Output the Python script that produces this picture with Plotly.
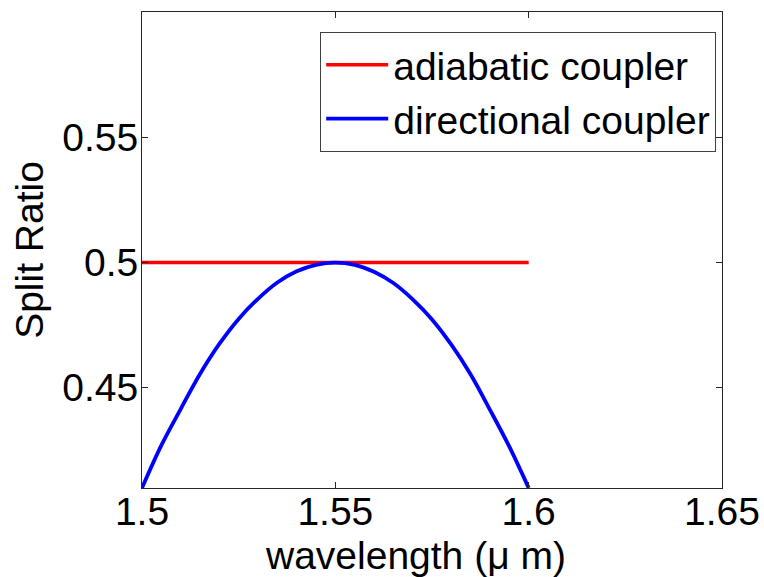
import plotly.graph_objects as go

# Data
wavelength_adiabatic = [1.50, 1.60]
split_adiabatic = [0.5, 0.5]

wavelength_directional = [1.500, 1.505, 1.510, 1.515, 1.520, 1.525, 1.530, 1.535, 1.540, 1.545,
                          1.550, 1.555, 1.560, 1.565, 1.570, 1.575, 1.580, 1.585, 1.590, 1.595, 1.600]
split_directional = [0.4100, 0.4270, 0.4415, 0.4555, 0.4675, 0.4775, 0.4855, 0.4920, 0.4965, 0.4991,
                     0.5000, 0.4991, 0.4963, 0.4918, 0.4853, 0.4773, 0.4672, 0.4553, 0.4412, 0.4265, 0.4100]

x_ticks = [1.5, 1.55, 1.6, 1.65]
x_ticktext = ["1.5", "1.55", "1.6", "1.65"]
y_ticks = [0.45, 0.5, 0.55]
y_ticktext = ["0.45", "0.5", "0.55"]
x_title = "wavelength (μ m)"
y_title = "Split Ratio"

FONT = "Liberation Sans, Arial, sans-serif"
FS = 39

fig = go.Figure()
fig.add_trace(go.Scatter(x=wavelength_adiabatic, y=split_adiabatic, mode="lines",
                         name="adiabatic coupler", line=dict(color="#ff0000", width=3.5)))
fig.add_trace(go.Scatter(x=wavelength_directional, y=split_directional, mode="lines",
                         name="directional coupler", line=dict(color="#0000ff", width=3.8, shape="spline")))

axis_common = dict(showgrid=False, zeroline=False, showline=True, linecolor="#262626", linewidth=1,
                   mirror="ticks", ticks="inside", ticklen=6, tickcolor="#262626", automargin=False,
                   tickfont=dict(family=FONT, size=FS, color="black"))

fig.update_xaxes(range=[1.5, 1.65], tickvals=x_ticks, ticktext=x_ticktext, ticklabelstandoff=-11,
                 **axis_common)
fig.update_yaxes(range=[0.41, 0.6], tickvals=y_ticks, ticktext=y_ticktext, ticklabelstandoff=-5,
                 title=dict(text=y_title, font=dict(family=FONT, size=FS, color="black"), standoff=6),
                 **axis_common)

fig.add_annotation(text=x_title, xref="paper", yref="paper", x=0.472, y=-0.0924,
                   xanchor="center", yanchor="top", showarrow=False,
                   font=dict(family=FONT, size=FS, color="black"))

fig.update_layout(
    width=764, height=577,
    margin=dict(l=142, r=42, t=12, b=89),
    paper_bgcolor="white", plot_bgcolor="white",
    showlegend=True,
    legend=dict(x=0.99, y=0.958, xanchor="right", yanchor="top",
                bgcolor="white", bordercolor="#404040", borderwidth=1,
                font=dict(family=FONT, size=FS, color="black"),
                itemwidth=62, tracegroupgap=0),
)

fig.write_html("out.html")
